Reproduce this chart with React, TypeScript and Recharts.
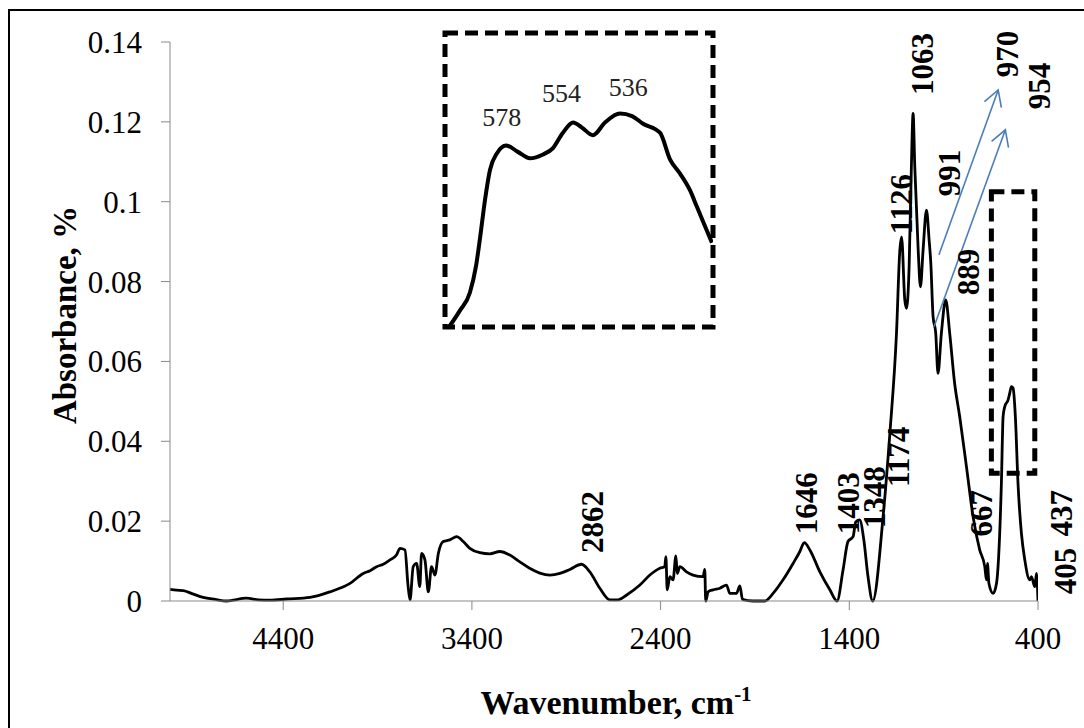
import React from "react";
import {
  LineChart,
  Line,
  XAxis,
  YAxis,
  ReferenceArea,
  ReferenceDot,
  ReferenceLine,
  Label,
} from "recharts";

// main FTIR spectrum
const wavenumbers = [
  5000, 4965, 4930, 4880, 4824, 4760, 4700, 4594, 4530, 4470, 4382, 4258, 4152, 4046,
  3976, 3940, 3905, 3870, 3834, 3800, 3781, 3755, 3738, 3728, 3711, 3693, 3676, 3667,
  3649, 3631, 3614, 3596, 3578, 3552, 3517, 3481, 3446, 3411, 3358, 3305, 3252, 3199,
  3146, 3094, 3040, 2987, 2934, 2881, 2819, 2775, 2722, 2669, 2625, 2580, 2510, 2457,
  2404, 2378, 2372, 2365, 2351, 2334, 2319, 2312, 2298, 2263, 2228, 2175, 2166, 2161,
  2148, 2122, 2086, 2051, 2033, 1998, 1980, 1966, 1910, 1848, 1804, 1751, 1698, 1662,
  1639, 1609, 1556, 1503, 1465, 1433, 1407, 1380, 1366, 1345, 1323, 1302, 1276, 1221,
  1185, 1150, 1132, 1123, 1106, 1097, 1083, 1071, 1062, 1053, 1035, 1023, 1009, 991,
  977, 968, 956, 942, 930, 912, 889, 868, 842, 815, 779, 744, 709, 682, 673, 668, 660,
  638, 620, 594, 585, 576, 559, 550, 541, 532, 520, 506, 488, 470, 444, 435, 417, 408,
  400,
];
const absorbance = [
  0.0029, 0.0027, 0.0026, 0.0018, 0.0009, 0.0004, 0.0, 0.0007, 0.0003, 0.0002, 0.0005,
  0.0009, 0.0023, 0.0044, 0.0069, 0.0076, 0.0086, 0.0092, 0.0103, 0.0115, 0.0132, 0.0128,
  0.0036, 0.0003, 0.0086, 0.0094, 0.0036, 0.0119, 0.0103, 0.0023, 0.0086, 0.0065, 0.0119,
  0.0149, 0.0153, 0.0161, 0.0149, 0.0132, 0.0121, 0.0118, 0.0124, 0.0115, 0.0098, 0.0082,
  0.007, 0.0065, 0.0069, 0.0079, 0.0092, 0.0073, 0.0032, 0.0003, 0.0003, 0.0015, 0.004,
  0.0065, 0.0082, 0.0086, 0.0111, 0.0028, 0.0061, 0.0053, 0.0113, 0.0069, 0.0086, 0.0073,
  0.0065, 0.0061, 0.0079, 0.0, 0.0023, 0.0028, 0.0032, 0.004, 0.0019, 0.0019, 0.0038,
  0.0004, 0.0, 0.0, 0.0019, 0.0053, 0.0094, 0.0124, 0.0146, 0.0128, 0.0073, 0.0028, 0.0,
  0.0078, 0.0149, 0.0161, 0.0198, 0.0203, 0.0153, 0.0065, 0.0, 0.0211, 0.042, 0.067,
  0.088, 0.0912, 0.0754, 0.0733, 0.0837, 0.1088, 0.1221, 0.1088, 0.0879, 0.0787, 0.0879,
  0.0979, 0.0904, 0.0846, 0.0712, 0.0671, 0.057, 0.0671, 0.0754, 0.0671, 0.0546, 0.0462,
  0.0336, 0.0211, 0.0128, 0.0086, 0.0053, 0.0094, 0.0044, 0.0019, 0.0044, 0.0295, 0.0462,
  0.0487, 0.0503, 0.052, 0.0537, 0.0533, 0.0462, 0.0295, 0.017, 0.0103, 0.0053, 0.0061,
  0.0036, 0.0069, 0.0,
];

// zoomed inset (600-500 cm-1)
const insetWavenumbers = [
  598.5, 594.4, 590.7, 588.4, 586.9, 585.1, 583.2, 580.6, 577.2, 572.8, 568.3, 563.4,
  559.7, 556.0, 552.2, 548.9, 544.8, 540.3, 534.7, 530.2, 526.1, 519.8, 516.0, 512.3,
  508.6, 506.0, 500.4,
];
const insetAbsorbance = [
  0.035, 0.0363, 0.0377, 0.0398, 0.042, 0.0449, 0.0473, 0.0486, 0.0492, 0.0487, 0.0482,
  0.0485, 0.049, 0.0502, 0.051, 0.0506, 0.05, 0.051, 0.0517, 0.0515, 0.0509, 0.0502,
  0.0481, 0.047, 0.0457, 0.0444, 0.0416,
];

const xTicks = [400, 1400, 2400, 3400, 4400];
const yTicks = [0, 0.02, 0.04, 0.06, 0.08, 0.1, 0.12, 0.14];

// peak annotations (rotated), anchored in data units
const peakLabels = ["2862", "1646", "1403", "1348", "1174", "1126", "1063", "991", "889", "970", "954", "667", "437", "405"];
const peakLabelWn = [2759, 1625, 1403, 1265, 1138, 1122, 1011, 868, 767, 560, 391, 698, 274, 253];
const peakLabelAbs = [0.0198, 0.0245, 0.0245, 0.026, 0.0361, 0.0994, 0.1345, 0.1072, 0.0824, 0.137, 0.129, 0.022, 0.022, 0.0075];

const insetLabels = ["578", "554", "536"];
const insetLabelWn = [578.8, 556.5, 531.6];
const insetLabelAbs = [0.0514, 0.0533, 0.0537];

// blue arrows: [from, to]
const arrowFromWn = [925, 951];
const arrowFromAbs = [0.0867, 0.0687];
const arrowToWn = [611, 573];
const arrowToAbs = [0.128, 0.118];

const spectrum = wavenumbers.map((wn, i) => ({ wn, a: absorbance[i] }));
const insetData = insetWavenumbers.map((wn, i) => ({ wn, a: insetAbsorbance[i] }));

const FONT = "'Liberation Serif', 'Times New Roman', serif";
const AXIS = "#898989";
const BLUE = "#4a7ebb";

const fmtY = (v: number) => (v === 0 ? "0" : String(+v.toFixed(2)));

function RotatedText(text: string, size: number) {
  return (p: any) => (
    <text
      x={p.cx}
      y={p.cy}
      transform={`rotate(-90 ${p.cx} ${p.cy})`}
      textAnchor="middle"
      dominantBaseline="central"
      fontFamily={FONT}
      fontWeight="bold"
      fontSize={size}
      fill="#000"
    >
      {text}
    </text>
  );
}

function PlainText(text: string) {
  return (p: any) => (
    <text x={p.cx} y={p.cy} textAnchor="middle" dominantBaseline="central" fontFamily={FONT} fontSize={26} fill="#222">
      {text}
    </text>
  );
}

function Arrow(p: any) {
  const { x1, y1, x2, y2 } = p;
  const ang = Math.atan2(y1 - y2, x1 - x2);
  const len = 18;
  const spread = (30 * Math.PI) / 180;
  const w1 = { x: x2 + len * Math.cos(ang + spread), y: y2 + len * Math.sin(ang + spread) };
  const w2 = { x: x2 + len * Math.cos(ang - spread), y: y2 + len * Math.sin(ang - spread) };
  return (
    <g stroke={BLUE} strokeWidth={1.6} fill="none">
      <line x1={x1} y1={y1} x2={x2} y2={y2} />
      <polyline points={`${w1.x},${w1.y} ${x2},${y2} ${w2.x},${w2.y}`} />
    </g>
  );
}

export default function App() {
  return (
    <div style={{ position: "relative", width: 1084, height: 728, background: "#fff", fontFamily: FONT }}>
      <style>{"body{margin:0;overflow:hidden}"}</style>
      <div
        style={{
          position: "absolute",
          left: 8,
          top: 9,
          width: 1100,
          height: 760,
          borderLeft: "2px solid #000",
          borderTop: "2px solid #000",
        }}
      />
      <div style={{ position: "absolute", left: 0, top: 0 }}>
        <LineChart width={1084} height={728} data={spectrum} margin={{ top: 42, right: 46, bottom: 0, left: 0 }}>
          <XAxis
            type="number"
            dataKey="wn"
            domain={[400, 5000]}
            reversed
            allowDataOverflow
            ticks={xTicks}
            height={127}
            tickSize={9}
            tickMargin={17}
            stroke={AXIS}
            tick={{ fontSize: 31, fill: "#000", fontFamily: FONT }}
          >
            <Label
              content={(p: any) => {
                const vb = p.viewBox;
                const cx = vb.x + vb.width / 2 + 12;
                return (
                  <text x={cx} y={714} textAnchor="middle" fontFamily={FONT} fontWeight="bold" fontSize={34} fill="#000">
                    <tspan>Wavenumber, cm</tspan>
                    <tspan fontSize={21} dy={-13}>-1</tspan>
                  </text>
                );
              }}
            />
          </XAxis>
          <YAxis
            type="number"
            domain={[0, 0.14]}
            ticks={yTicks}
            width={170}
            tickSize={9}
            tickMargin={19}
            tickFormatter={fmtY}
            stroke={AXIS}
            tick={{ fontSize: 31, fill: "#000", fontFamily: FONT }}
          >
            <Label
              content={() => (
                <text
                  x={65}
                  y={315}
                  transform="rotate(-90 65 315)"
                  textAnchor="middle"
                  dominantBaseline="central"
                  fontFamily={FONT}
                  fontWeight="bold"
                  fontSize={33}
                  fill="#000"
                >
                  Absorbance, %
                </text>
              )}
            />
          </YAxis>
          <Line
            type="monotone"
            dataKey="a"
            stroke="#000"
            strokeWidth={2.8}
            dot={false}
            isAnimationActive={false}
          />
          <ReferenceArea
            x1={647}
            x2={417}
            y1={0.032}
            y2={0.1025}
            fill="none"
            stroke="#000"
            strokeWidth={5}
            strokeDasharray="13 7"
            ifOverflow="visible"
          />
          {arrowFromWn.map((_, i) => (
            <ReferenceLine
              key={`arr${i}`}
              segment={[
                { x: arrowFromWn[i], y: arrowFromAbs[i] },
                { x: arrowToWn[i], y: arrowToAbs[i] },
              ]}
              ifOverflow="visible"
              shape={Arrow}
            />
          ))}
          {peakLabels.map((t, i) => (
            <ReferenceDot
              key={`pk${t}`}
              x={peakLabelWn[i]}
              y={peakLabelAbs[i]}
              r={0}
              ifOverflow="visible"
              shape={RotatedText(t, 31)}
            />
          ))}
        </LineChart>
      </div>
      <div style={{ position: "absolute", left: 440, top: 28 }}>
        <LineChart width={278} height={304} data={insetData} margin={{ top: 5, right: 5, bottom: 5, left: 5 }}>
          <XAxis hide type="number" dataKey="wn" domain={[500, 600]} reversed allowDataOverflow />
          <YAxis hide type="number" domain={[0.035, 0.058]} allowDataOverflow />
          <ReferenceArea
            x1={600}
            x2={500}
            y1={0.035}
            y2={0.058}
            fill="#fff"
            fillOpacity={1}
            stroke="#000"
            strokeWidth={5}
            strokeDasharray="13 7"
            ifOverflow="visible"
          />
          <Line
            type="monotone"
            dataKey="a"
            stroke="#000"
            strokeWidth={4}
            dot={false}
            isAnimationActive={false}
          />
          {insetLabels.map((t, i) => (
            <ReferenceDot
              key={`in${t}`}
              x={insetLabelWn[i]}
              y={insetLabelAbs[i]}
              r={0}
              ifOverflow="visible"
              shape={PlainText(t)}
            />
          ))}
        </LineChart>
      </div>
    </div>
  );
}
